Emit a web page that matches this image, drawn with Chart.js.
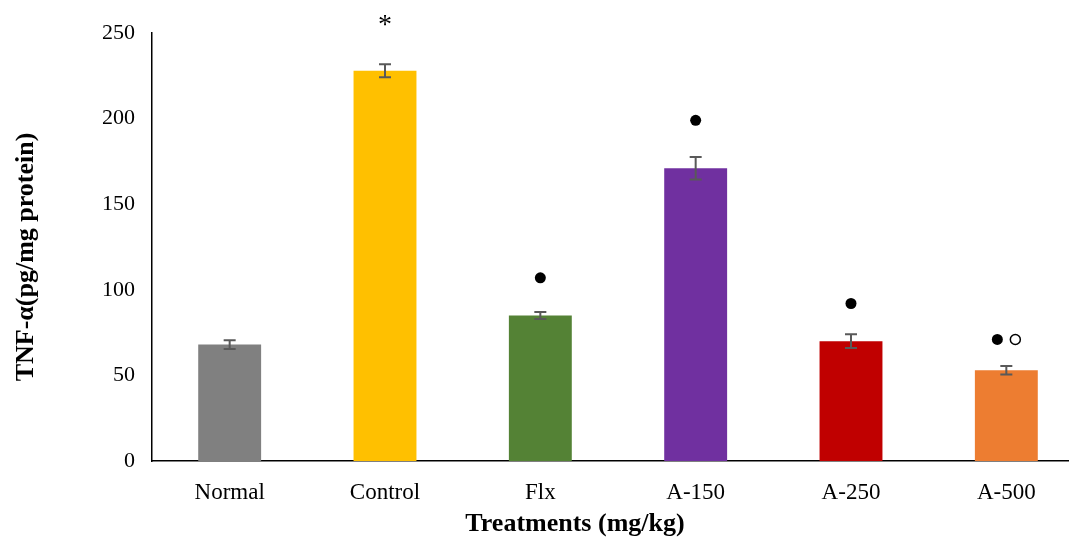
<!DOCTYPE html>
<html>
<head>
<meta charset="utf-8">
<script src="https://cdn.jsdelivr.net/npm/chart.js@4/dist/chart.umd.min.js"></script>
<style>
  html, body { margin: 0; padding: 0; background: #fff; overflow: hidden; }
  #wrap { width: 1084px; height: 538px; }
</style>
</head>
<body>
<div id="wrap"><canvas id="myChart"></canvas></div>
<script>
// values
var categories = ['Normal', 'Control', 'Flx', 'A-150', 'A-250', 'A-500'];
var means = [68, 228, 85, 171, 70, 53];
var errors = [2.6, 3.8, 2, 6.5, 4, 2.5];
var barColors = ['#808080', '#ffc000', '#548235', '#7030a0', '#c00000', '#ed7d31'];
// significance marks above bars and their heights (axis units)
var marks = ['', '*', '\u25CF', '\u25CF', '\u25CF', '\u25CF\u25CB'];
var markLevels = [0, 257, 107, 199, 92, 71];
var xTitle = 'Treatments (mg/kg)';
var yTitle = 'TNF-\u03b1(pg/mg protein)';

var serif = '"Liberation Serif", "Times New Roman", serif';

const extras = {
  id: 'extras',
  afterDatasetsDraw(chart) {
    const ctx = chart.ctx;
    const x = chart.scales.x, y = chart.scales.y;
    ctx.save();
    ctx.strokeStyle = '#595959';
    ctx.lineWidth = 2;
    for (var i = 0; i < means.length; i++) {
      var cx = x.getPixelForValue(i);
      var top = y.getPixelForValue(means[i] + errors[i]);
      var bot = y.getPixelForValue(means[i] - errors[i]);
      ctx.beginPath();
      ctx.moveTo(cx, top); ctx.lineTo(cx, bot);
      ctx.moveTo(cx - 6, top); ctx.lineTo(cx + 6, top);
      ctx.moveTo(cx - 6, bot); ctx.lineTo(cx + 6, bot);
      ctx.stroke();
    }
    // marks
    ctx.fillStyle = '#000';
    ctx.strokeStyle = '#000';
    ctx.lineWidth = 1.5;
    for (var j = 0; j < marks.length; j++) {
      if (!marks[j]) continue;
      var mx = x.getPixelForValue(j);
      var my = y.getPixelForValue(markLevels[j]);
      if (marks[j] === '*') {
        ctx.font = '28px ' + serif;
        ctx.textAlign = 'center';
        ctx.textBaseline = 'middle';
        ctx.fillText('*', mx, my + 5);
      } else if (marks[j].length === 1) {
        ctx.beginPath(); ctx.arc(mx, my, 5.5, 0, Math.PI * 2); ctx.fill();
      } else {
        ctx.beginPath(); ctx.arc(mx - 9, my, 5.5, 0, Math.PI * 2); ctx.fill();
        ctx.beginPath(); ctx.arc(mx + 9, my, 5, 0, Math.PI * 2); ctx.stroke();
      }
    }
    // axis titles
    ctx.font = 'bold 26px ' + serif;
    ctx.textAlign = 'center';
    ctx.textBaseline = 'middle';
    ctx.fillText(xTitle, 575, 524);
    ctx.translate(26, 257);
    ctx.rotate(-Math.PI / 2);
    ctx.fillText(yTitle, 0, 0);
    ctx.restore();
  }
};

new Chart(document.getElementById('myChart'), {
  type: 'bar',
  data: {
    labels: categories,
    datasets: [{
      data: means,
      backgroundColor: barColors,
      barPercentage: 0.405,
      categoryPercentage: 1
    }]
  },
  options: {
    responsive: true,
    maintainAspectRatio: false,
    animation: false,
    layout: { padding: { top: 33, left: 0, right: 0, bottom: 0 } },
    plugins: { legend: { display: false }, tooltip: { enabled: false } },
    scales: {
      x: {
        grid: { display: false, drawTicks: false },
        border: { display: true, color: '#000', width: 1.5 },
        ticks: { color: '#000', font: { family: serif, size: 23 }, padding: 18 },
        afterFit: function (s) { s.height = 77; }
      },
      y: {
        min: 0, max: 250,
        grid: { display: false, drawTicks: false },
        border: { display: true, color: '#000', width: 1.5 },
        ticks: { stepSize: 50, color: '#000', font: { family: serif, size: 22 }, padding: 17 },
        afterFit: function (s) { s.width = 152; }
      }
    }
  },
  plugins: [extras]
});
</script>
</body>
</html>
